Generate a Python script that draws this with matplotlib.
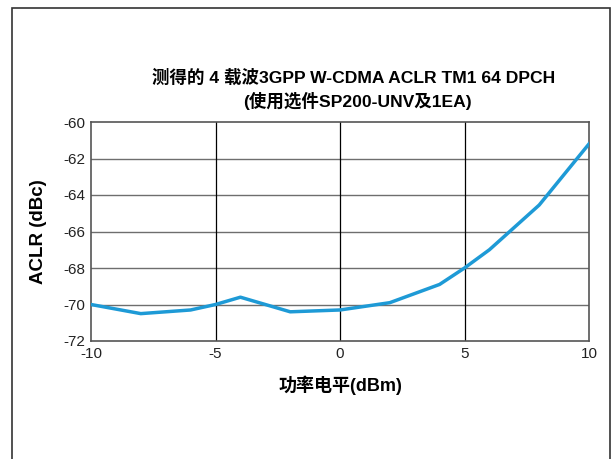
import matplotlib
matplotlib.use('Agg')
import matplotlib.pyplot as plt
from matplotlib.patches import Rectangle

plt.rcParams['font.family'] = ['Liberation Sans', 'Noto Sans CJK SC']

# ACLR vs output power
power_dbm = [-10, -8, -6, -5, -4, -2, 0, 2, 4, 5, 6, 8, 10]
aclr_dbc = [-70.0, -70.5, -70.3, -70.0, -69.6, -70.4, -70.3, -69.9, -68.9, -68.0, -67.0, -64.55, -61.2]

x_ticks = [-10, -5, 0, 5, 10]
y_ticks = [-60, -62, -64, -66, -68, -70, -72]

title_1 = '测得的 4 载波3GPP W-CDMA ACLR TM1 64 DPCH'
title_2 = '(使用选件SP200-UNV及1EA)'

fig = plt.figure(figsize=(6.13, 4.59), dpi=100)
fig.patch.set_facecolor('white')

# outer frame
fig.patches.append(Rectangle((12/613, -0.1), 598/613, 1.1 - 8/459, transform=fig.transFigure,
                             fill=False, edgecolor='#333333', linewidth=1.2))

ax = fig.add_axes([91/613, 1 - 341/459, 498/613, 219/459])
ax.plot(power_dbm, aclr_dbc, color='#1e9ad6', linewidth=2.5, zorder=3)

ax.set_xlim(-10, 10)
ax.set_ylim(-72, -60)
ax.set_xticks(x_ticks)
ax.set_yticks(y_ticks)
ax.set_xticklabels([str(t) for t in x_ticks])
ax.set_yticklabels([str(t) for t in y_ticks])
ax.tick_params(length=0, labelsize=11, pad=4, colors='#222222')

for y in y_ticks[1:-1]:
    ax.axhline(y, color='#6e6e6e', linewidth=1.0, zorder=1)
for x in x_ticks[1:-1]:
    ax.axvline(x, color='black', linewidth=0.9, zorder=1)
for s in ax.spines.values():
    s.set_color('#555555')
    s.set_linewidth(1.2)

ax.set_xlabel('功率电平(dBm)', fontsize=13, fontweight='bold', labelpad=11)
ax.set_ylabel('ACLR (dBc)', fontsize=13.5, fontweight='bold', labelpad=12)

fig.text(354/613, 1 - 77/459, title_1, ha='center', va='center', fontsize=12.6, fontweight='bold')
fig.text(357/613, 1 - 101/459, title_2, ha='center', va='center', fontsize=12.6, fontweight='bold')

fig.savefig('out.png', dpi=100)
